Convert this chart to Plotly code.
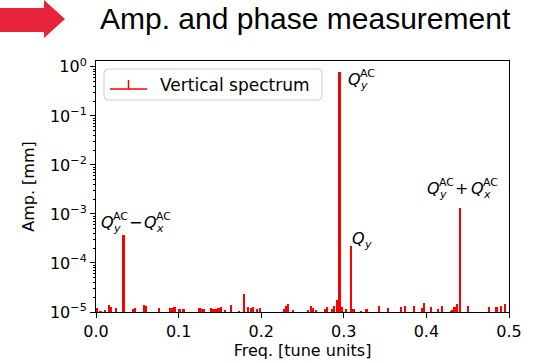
import math
import plotly.graph_objects as go

# ---------------- data ----------------
freqs = [0.001, 0.0057, 0.0109, 0.0157, 0.0185, 0.025, 0.0335, 0.0447, 0.0475, 0.058,
         0.0612, 0.0764, 0.0894, 0.0926, 0.0954, 0.1014, 0.1063, 0.1256, 0.1272, 0.1304,
         0.1397, 0.1425, 0.1449, 0.1486, 0.1518, 0.1566, 0.1634, 0.1739, 0.1791, 0.1848,
         0.188, 0.1908, 0.1953, 0.1993, 0.2274, 0.2303, 0.2327, 0.2391, 0.2569, 0.2605,
         0.2624, 0.2665, 0.2778, 0.2802, 0.2859, 0.2883, 0.2919, 0.295, 0.298, 0.3031,
         0.309, 0.312, 0.3216, 0.3277, 0.343, 0.3542, 0.37, 0.3744, 0.3853, 0.3953,
         0.3977, 0.4062, 0.4139, 0.4191, 0.4296, 0.4315, 0.4344, 0.4376, 0.441, 0.4508,
         0.4758, 0.4851, 0.4903, 0.4952]
amps = [1.21e-5, 1.05e-5, 1.1e-5, 1.39e-5, 1.26e-5, 1.21e-5, 3.7e-4, 1.15e-5, 1.21e-5, 1.39e-5,
        1.33e-5, 1.21e-5, 1.21e-5, 1.21e-5, 1.26e-5, 1.15e-5, 1.15e-5, 1.21e-5, 1.15e-5, 1.15e-5,
        1.21e-5, 1.15e-5, 1.15e-5, 1.21e-5, 1.26e-5, 1.1e-5, 1.39e-5, 1.05e-5, 2.33e-5, 1.26e-5,
        1.21e-5, 1.26e-5, 1.15e-5, 1.21e-5, 1.15e-5, 1.33e-5, 1.46e-5, 1.1e-5, 1.1e-5, 1.33e-5,
        1.21e-5, 1.1e-5, 1.15e-5, 1.26e-5, 1.15e-5, 1.33e-5, 1.76e-5, 0.8, 1.26e-5, 1.15e-5,
        2.2e-4, 1.15e-5, 1.05e-5, 1.15e-5, 1.33e-5, 1.21e-5, 1.26e-5, 1.33e-5, 1.33e-5, 1.21e-5,
        1.53e-5, 1.26e-5, 1.15e-5, 1.33e-5, 1.05e-5, 1.1e-5, 1.26e-5, 1.46e-5, 1.35e-3, 1.33e-5,
        1.26e-5, 1.26e-5, 1.33e-5, 1.46e-5]

x_ticks = [0.0, 0.1, 0.2, 0.3, 0.4, 0.5]
x_ticktext = ["0.0", "0.1", "0.2", "0.3", "0.4", "0.5"]
y_exps = [0, -1, -2, -3, -4, -5]

# peaks to label: (freq, amp)
pk_diff = (0.0335, 3.7e-4)
pk_qac = (0.295, 0.8)
pk_q = (0.309, 2.2e-4)
pk_sum = (0.441, 1.35e-3)

title_text = "Amp. and phase measurement"
legend_text = "Vertical spectrum"

# ---------------- layout constants ----------------
W, H = 558, 363
L, R, T, B = 96, 49, 61, 51
PW, PH = W - L - R, H - T - B
FONT = "DejaVu Sans"
RED = "#ff0000"


def px(x):
    return (x - L) / PW


def py(y):
    return (H - B - y) / PH


fig = go.Figure()
fig.add_trace(go.Bar(x=freqs, y=amps, width=0.002,
                     marker=dict(color=RED, line=dict(width=0)),
                     showlegend=False))

fig.update_layout(
    width=W, height=H,
    margin=dict(l=L, r=R, t=T, b=B, autoexpand=False),
    paper_bgcolor="white", plot_bgcolor="white",
    font=dict(family=FONT, size=16, color="black"),
    bargap=0,
    xaxis=dict(range=[0, 0.5], tickvals=x_ticks, ticktext=x_ticktext, automargin=False,
               ticks="outside", ticklen=5, tickwidth=1, tickcolor="black",
               showline=True, linecolor="black", linewidth=1, mirror=True,
               showgrid=False, zeroline=False,
               tickfont=dict(family=FONT, size=16),
               title=dict(text="Freq. [tune units]", font=dict(family=FONT, size=16), standoff=4)),
    yaxis=dict(type="log", range=[-5, 0.12], automargin=False,
               tickvals=[10 ** e for e in y_exps],
               ticktext=["10<sup>%s</sup>" % (str(e).replace("-", "\u2212")) for e in y_exps],
               ticks="outside", ticklen=5, tickwidth=1, tickcolor="black",
               minor=dict(ticks="outside", ticklen=2.5, tickcolor="black", dtick="D1", showgrid=False),
               showline=True, linecolor="black", linewidth=1, mirror=True,
               showgrid=False, zeroline=False,
               tickfont=dict(family=FONT, size=16),
               title=dict(text="Amp. [mm]", font=dict(family=FONT, size=16), standoff=11)),
)

# ---------------- labels on peaks ----------------
def ann(pk, text, dx, dy, size=16, xanchor="left"):
    fig.add_annotation(x=pk[0], y=math.log10(pk[1]), xref="x", yref="y", yanchor="middle",
                       xanchor=xanchor, xshift=dx, yshift=dy, showarrow=False,
                       text=text, font=dict(family=FONT, size=size, color="black"))


def qterm(pk, dx, dy, sub, sup=True):
    ann(pk, "<i>Q</i>", dx, dy)
    if sup:
        ann(pk, "AC", dx + 12, dy + 6, size=11)
    ann(pk, "<i>%s</i>" % sub, dx + 12, dy - 6, size=11)


# Q_y^AC - Q_x^AC
qterm(pk_diff, -25, 13, "y")
ann(pk_diff, "\u2212", 12, 13, xanchor="center")
qterm(pk_diff, 18, 13, "x")
# Q_y^AC
qterm(pk_qac, 6, -8, "y")
# Q_y
qterm(pk_q, -1, 8, "y", sup=False)
# Q_y^AC + Q_x^AC
qterm(pk_sum, -35, 19, "y")
ann(pk_sum, "+", 1, 19, xanchor="center")
qterm(pk_sum, 9, 19, "x")

# ---------------- legend (drawn) ----------------
x0, y0, x1, y1, r = 104, 69, 322, 100, 4
path = (f"M {px(x0 + r)},{py(y0)} L {px(x1 - r)},{py(y0)} Q {px(x1)},{py(y0)} {px(x1)},{py(y0 + r)} "
        f"L {px(x1)},{py(y1 - r)} Q {px(x1)},{py(y1)} {px(x1 - r)},{py(y1)} "
        f"L {px(x0 + r)},{py(y1)} Q {px(x0)},{py(y1)} {px(x0)},{py(y1 - r)} "
        f"L {px(x0)},{py(y0 + r)} Q {px(x0)},{py(y0)} {px(x0 + r)},{py(y0)} Z")
fig.add_shape(type="path", path=path, xref="paper", yref="paper",
              line=dict(color="#cccccc", width=1), fillcolor="rgba(255,255,255,0.8)")
fig.add_shape(type="line", xref="paper", yref="paper", x0=px(110), x1=px(147), y0=py(89), y1=py(89),
              line=dict(color=RED, width=1.5))
fig.add_shape(type="line", xref="paper", yref="paper", x0=px(128.5), x1=px(128.5), y0=py(80), y1=py(89),
              line=dict(color=RED, width=1.5))
fig.add_annotation(x=px(158), y=py(84.5), xref="paper", yref="paper", xanchor="left", yanchor="middle",
                   showarrow=False, text=legend_text, font=dict(family=FONT, size=17, color="black"))

# ---------------- header: arrow + title ----------------
arrow = [(0, 8), (44, 8), (44, 0), (65, 19), (44, 38), (44, 32), (0, 32)]
apath = "M " + " L ".join(f"{px(a)},{py(b)}" for a, b in arrow) + " Z"
fig.add_shape(type="path", path=apath, xref="paper", yref="paper",
              line=dict(width=0), fillcolor="#E8233C")
fig.add_annotation(x=px(98), y=py(19), xref="paper", yref="paper", xanchor="left", yanchor="middle",
                   showarrow=False, text=title_text,
                   font=dict(family="Liberation Sans", size=30, color="black"))

fig.write_html("out.html", config={"displayModeBar": False},
               post_script="document.body.style.margin='0';")
